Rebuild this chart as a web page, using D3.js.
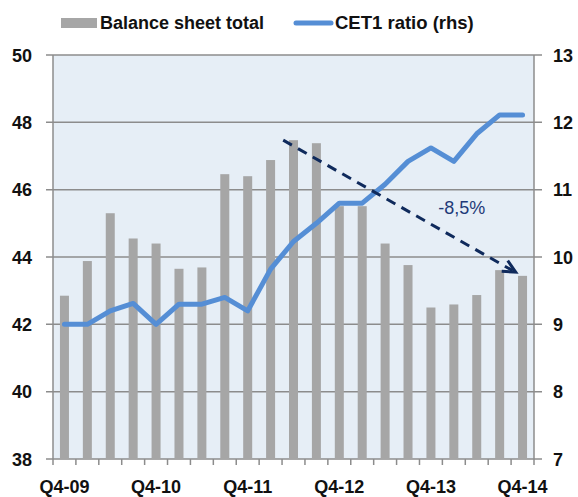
<!DOCTYPE html>
<html>
<head>
<meta charset="utf-8">
<script src="https://cdn.jsdelivr.net/npm/d3@7"></script>
<style>
  body { margin: 0; background: #fff; }
  text { font-family: "Liberation Sans", Arial, sans-serif; }
</style>
</head>
<body>
<div id="chart"></div>
<script>
    // Chart data
    var quarters = ["Q4-09", "Q1-10", "Q2-10", "Q3-10", "Q4-10", "Q1-11", "Q2-11", "Q3-11", "Q4-11",
      "Q1-12", "Q2-12", "Q3-12", "Q4-12", "Q1-13", "Q2-13", "Q3-13", "Q4-13", "Q1-14", "Q2-14", "Q3-14", "Q4-14"];
    var balanceSheet = [42.85, 43.88, 45.3, 44.55, 44.4, 43.65, 43.69, 46.46, 46.4, 46.88, 47.47,
      47.38, 45.51, 45.51, 44.4, 43.76, 42.5, 42.59, 42.87, 43.61, 43.44];
    var cet1Ratio = [9.0, 9.0, 9.2, 9.31, 9.0, 9.3, 9.3, 9.4, 9.2, 9.82, 10.23,
      10.5, 10.8, 10.8, 11.08, 11.42, 11.62, 11.42, 11.83, 12.11, 12.11];
    var xTickLabels = ["Q4-09", "Q4-10", "Q4-11", "Q4-12", "Q4-13", "Q4-14"];
    var leftTicks = [38, 40, 42, 44, 46, 48, 50];
    var rightTicks = [7, 8, 9, 10, 11, 12, 13];
    // trend arrow: [category index, balance sheet value]
    var arrowStart = [10.05, 47.47];
    var arrowEnd = [20.2, 43.55];
    var arrowLabel = "-8,5%";

    var margin = { top: 55, right: 44, bottom: 38, left: 53 };
    var width = 578 - margin.left - margin.right;
    var height = 497 - margin.top - margin.bottom;

    var svg = d3.select("#chart")
      .append("svg")
      .attr("width", 578)
      .attr("height", 497);

    var g = svg.append("g")
      .attr("transform", "translate(" + margin.left + "," + margin.top + ")");

    // Scales
    var xIndex = d3.scaleLinear().domain([0, quarters.length]).range([0, width]);
    var yLeft = d3.scaleLinear().domain([38, 50]).range([height, 0]);
    var yRight = d3.scaleLinear().domain([7, 13]).range([height, 0]);

    // Background
    g.append("rect")
      .attr("width", width)
      .attr("height", height)
      .attr("fill", "#E6EEF6");

    // Gridlines (extending as ticks on both sides)
    g.selectAll(".grid")
      .data(leftTicks)
      .enter()
      .append("line")
      .attr("x1", -7)
      .attr("x2", width + 8)
      .attr("y1", function (d) { return yLeft(d); })
      .attr("y2", function (d) { return yLeft(d); })
      .attr("stroke", "#8C8C8C")
      .attr("stroke-width", 1.5);

    // Bars
    g.selectAll(".bar")
      .data(balanceSheet)
      .enter()
      .append("rect")
      .attr("class", "bar")
      .attr("x", function (d, i) { return xIndex(i + 0.5) - 4.5; })
      .attr("width", 9)
      .attr("y", function (d) { return yLeft(d); })
      .attr("height", function (d) { return height - yLeft(d); })
      .attr("fill", "#A6A6A6");

    // Axis lines
    g.append("line")
      .attr("x1", 0).attr("x2", 0)
      .attr("y1", 0).attr("y2", height)
      .attr("stroke", "#8C8C8C").attr("stroke-width", 1.5);
    g.append("line")
      .attr("x1", width).attr("x2", width)
      .attr("y1", 0).attr("y2", height)
      .attr("stroke", "#8C8C8C").attr("stroke-width", 1.5);

    // X axis: ticks at category boundaries
    g.selectAll(".xtick")
      .data(d3.range(quarters.length + 1))
      .enter()
      .append("line")
      .attr("x1", function (d) { return xIndex(d); })
      .attr("x2", function (d) { return xIndex(d); })
      .attr("y1", height)
      .attr("y2", height + 6)
      .attr("stroke", "#8C8C8C")
      .attr("stroke-width", 1.5);

    g.selectAll(".xlabel")
      .data(xTickLabels)
      .enter()
      .append("text")
      .attr("x", function (d) { return xIndex(quarters.indexOf(d) + 0.5); })
      .attr("y", height + 34)
      .attr("text-anchor", "middle")
      .attr("font-size", 18)
      .attr("font-weight", "bold")
      .attr("fill", "#111")
      .text(function (d) { return d; });

    // Y axis labels
    g.selectAll(".ylabel")
      .data(leftTicks)
      .enter()
      .append("text")
      .attr("x", -21)
      .attr("y", function (d) { return yLeft(d) + 6.5; })
      .attr("text-anchor", "end")
      .attr("font-size", 18)
      .attr("font-weight", "bold")
      .attr("fill", "#111")
      .text(function (d) { return d; });

    g.selectAll(".yrlabel")
      .data(rightTicks)
      .enter()
      .append("text")
      .attr("x", width + 19)
      .attr("y", function (d) { return yRight(d) + 6.5; })
      .attr("text-anchor", "start")
      .attr("font-size", 18)
      .attr("font-weight", "bold")
      .attr("fill", "#111")
      .text(function (d) { return d; });

    // CET1 line
    var line = d3.line()
      .x(function (d, i) { return xIndex(i + 0.5); })
      .y(function (d) { return yRight(d); });

    g.append("path")
      .datum(cet1Ratio)
      .attr("d", line)
      .attr("fill", "none")
      .attr("stroke", "#558ED5")
      .attr("stroke-width", 5)
      .attr("stroke-linejoin", "round")
      .attr("stroke-linecap", "round");

    // Trend arrow
    var ax1 = xIndex(arrowStart[0]), ay1 = yLeft(arrowStart[1]);
    var ax2 = xIndex(arrowEnd[0]), ay2 = yLeft(arrowEnd[1]);
    g.append("line")
      .attr("x1", ax1).attr("y1", ay1)
      .attr("x2", ax2 - 3).attr("y2", ay2 - 1.5)
      .attr("stroke", "#0F2A5C")
      .attr("stroke-width", 3)
      .attr("stroke-dasharray", "10,7");
    var ang = Math.atan2(ay2 - ay1, ax2 - ax1);
    var headLen = 14;
    var headPts = [
      [ax2 - headLen * Math.cos(ang - 0.45), ay2 - headLen * Math.sin(ang - 0.45)],
      [ax2, ay2],
      [ax2 - headLen * Math.cos(ang + 0.45), ay2 - headLen * Math.sin(ang + 0.45)]
    ];
    g.append("path")
      .attr("d", d3.line()(headPts))
      .attr("fill", "none")
      .attr("stroke", "#0F2A5C")
      .attr("stroke-width", 3);

    g.append("text")
      .attr("x", xIndex(17.85))
      .attr("y", yLeft(45.28))
      .attr("text-anchor", "middle")
      .attr("font-size", 18)
      .attr("fill", "#1F3A78")
      .text(arrowLabel);

    // Legend
    var legend = svg.append("g");
    legend.append("rect")
      .attr("x", 61).attr("y", 18)
      .attr("width", 36).attr("height", 10)
      .attr("fill", "#A6A6A6");
    legend.append("text")
      .attr("x", 100).attr("y", 29)
      .attr("font-size", 18)
      .attr("font-weight", "bold")
      .attr("fill", "#111")
      .text("Balance sheet total");
    legend.append("line")
      .attr("x1", 296).attr("x2", 331)
      .attr("y1", 23).attr("y2", 23)
      .attr("stroke", "#558ED5")
      .attr("stroke-width", 5)
      .attr("stroke-linecap", "round");
    legend.append("text")
      .attr("x", 335).attr("y", 29)
      .attr("font-size", 18.5)
      .attr("font-weight", "bold")
      .attr("fill", "#111")
      .text("CET1 ratio (rhs)");
</script>
</body>
</html>
